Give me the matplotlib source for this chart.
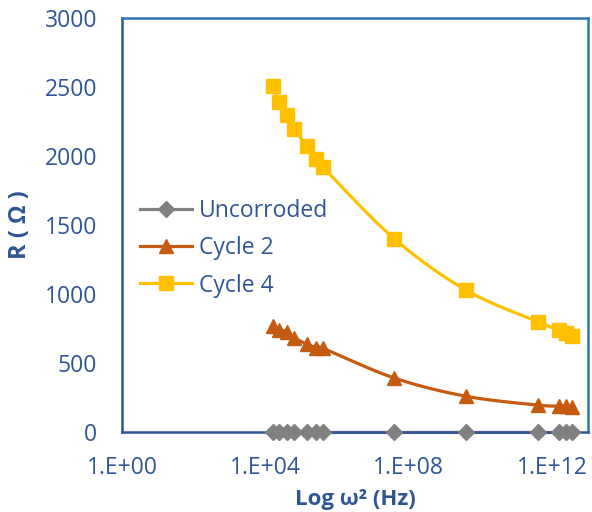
import numpy as np
import matplotlib
matplotlib.use('Agg')
import matplotlib.pyplot as plt

# omega^2 values (Hz)
omega_sq = [1.58e4, 2.47e4, 4.04e4, 6.32e4, 1.42e5, 2.53e5, 3.95e5,
            3.95e7, 3.95e9, 3.95e11, 1.58e12, 2.47e12, 3.55e12]

# resistance R (ohm) per sample
uncorroded = [2, 2, 2, 2, 2, 2, 2, 2, 2, 2, 2, 2, 2]
cycle_2 = [769, 742, 726, 684, 636, 612, 607, 391, 259, 195, 188, 186, 180]
cycle_4 = [2505, 2392, 2300, 2199, 2071, 1977, 1921, 1400, 1028, 799, 739, 715, 696]

series_names = ['Uncorroded', 'Cycle 2', 'Cycle 4']
x_ticks = [1e0, 1e4, 1e8, 1e12]
x_tick_labels = ['1.E+00', '1.E+04', '1.E+08', '1.E+12']
y_ticks = [0, 500, 1000, 1500, 2000, 2500, 3000]

BLUE = '#2F5597'
LIGHT_BLUE = '#2E75B6'
XMIN, XMAX = 1e0, 1e13
YMIN, YMAX = 0, 3000

plt.rcParams['font.family'] = ['Open Sans', 'DejaVu Sans']


def smooth_curve(xs, ys, ax_w, ax_h, n=30):
    """Catmull-Rom style smoothing in screen-like space, similar to Excel."""
    u = (np.log10(xs) - np.log10(XMIN)) / (np.log10(XMAX) - np.log10(XMIN)) * ax_w
    v = (np.asarray(ys, float) - YMIN) / (YMAX - YMIN) * ax_h
    pts = np.column_stack([u, v])
    ext = np.vstack([pts[0], pts, pts[-1]])
    out = []
    t = np.linspace(0, 1, n)[:, None]
    for i in range(len(pts) - 1):
        p0, p1, p2, p3 = ext[i], ext[i + 1], ext[i + 2], ext[i + 3]
        c1 = p1 + (p2 - p0) / 6.0
        c2 = p2 - (p3 - p1) / 6.0
        seg = ((1 - t) ** 3) * p1 + 3 * ((1 - t) ** 2) * t * c1 \
            + 3 * (1 - t) * t ** 2 * c2 + t ** 3 * p2
        out.append(seg if i == 0 else seg[1:])
    out = np.vstack(out)
    sx = 10 ** (out[:, 0] / ax_w * (np.log10(XMAX) - np.log10(XMIN)) + np.log10(XMIN))
    sy = out[:, 1] / ax_h * (YMAX - YMIN) + YMIN
    return sx, sy


fig = plt.figure(figsize=(5.92, 5.12), dpi=100)
ax = fig.add_axes([122 / 592, 1 - 432 / 512, 466 / 592, 414 / 512])
ax.set_xscale('log')
ax.set_xlim(XMIN, XMAX)
ax.set_ylim(YMIN, YMAX)

styles = [
    (uncorroded, '#808080', 'D', 8.5),
    (cycle_2, '#C55A11', '^', 10),
    (cycle_4, '#FFC000', 's', 10),
]

for (vals, color, marker, ms), name in zip(styles, series_names):
    sx, sy = smooth_curve(omega_sq, vals, 466, 414)
    ax.plot(sx, sy, color=color, lw=2.3, zorder=2, clip_on=False)
    ax.plot(omega_sq, vals, linestyle='none', marker=marker, ms=ms,
            color=color, zorder=3, clip_on=False)
    # proxy for legend
    ax.plot([], [], color=color, lw=2.3, marker=marker, ms=ms, label=name)

ax.set_xticks(x_ticks)
ax.set_xticklabels(x_tick_labels)
ax.xaxis.set_minor_locator(matplotlib.ticker.NullLocator())
ax.set_yticks(y_ticks)
ax.set_yticklabels([str(v) for v in y_ticks])
ax.tick_params(axis='both', length=0, labelsize=16.5, colors=BLUE)
ax.tick_params(axis='x', pad=17)
ax.tick_params(axis='y', pad=18)

ax.spines['left'].set_color(BLUE)
ax.spines['bottom'].set_color(BLUE)
ax.spines['top'].set_color(LIGHT_BLUE)
ax.spines['right'].set_color(LIGHT_BLUE)
for s in ax.spines.values():
    s.set_linewidth(1.8)

ax.set_xlabel('Log ω² (Hz)', fontsize=16, fontweight='bold', color=BLUE, labelpad=7)
ax.set_ylabel('R ( Ω )', fontsize=17, fontweight='bold', color=BLUE, labelpad=9)

handles, labels = ax.get_legend_handles_labels()
leg = ax.legend(handles[-3:], labels[-3:], loc='upper left',
                bbox_to_anchor=(0.038, 0.563), frameon=False, fontsize=16.5,
                handlelength=2.3, handletextpad=0.3, labelspacing=0.58,
                borderpad=0, borderaxespad=0)
for txt in leg.get_texts():
    txt.set_color(BLUE)

fig.savefig('out.png', dpi=100)
